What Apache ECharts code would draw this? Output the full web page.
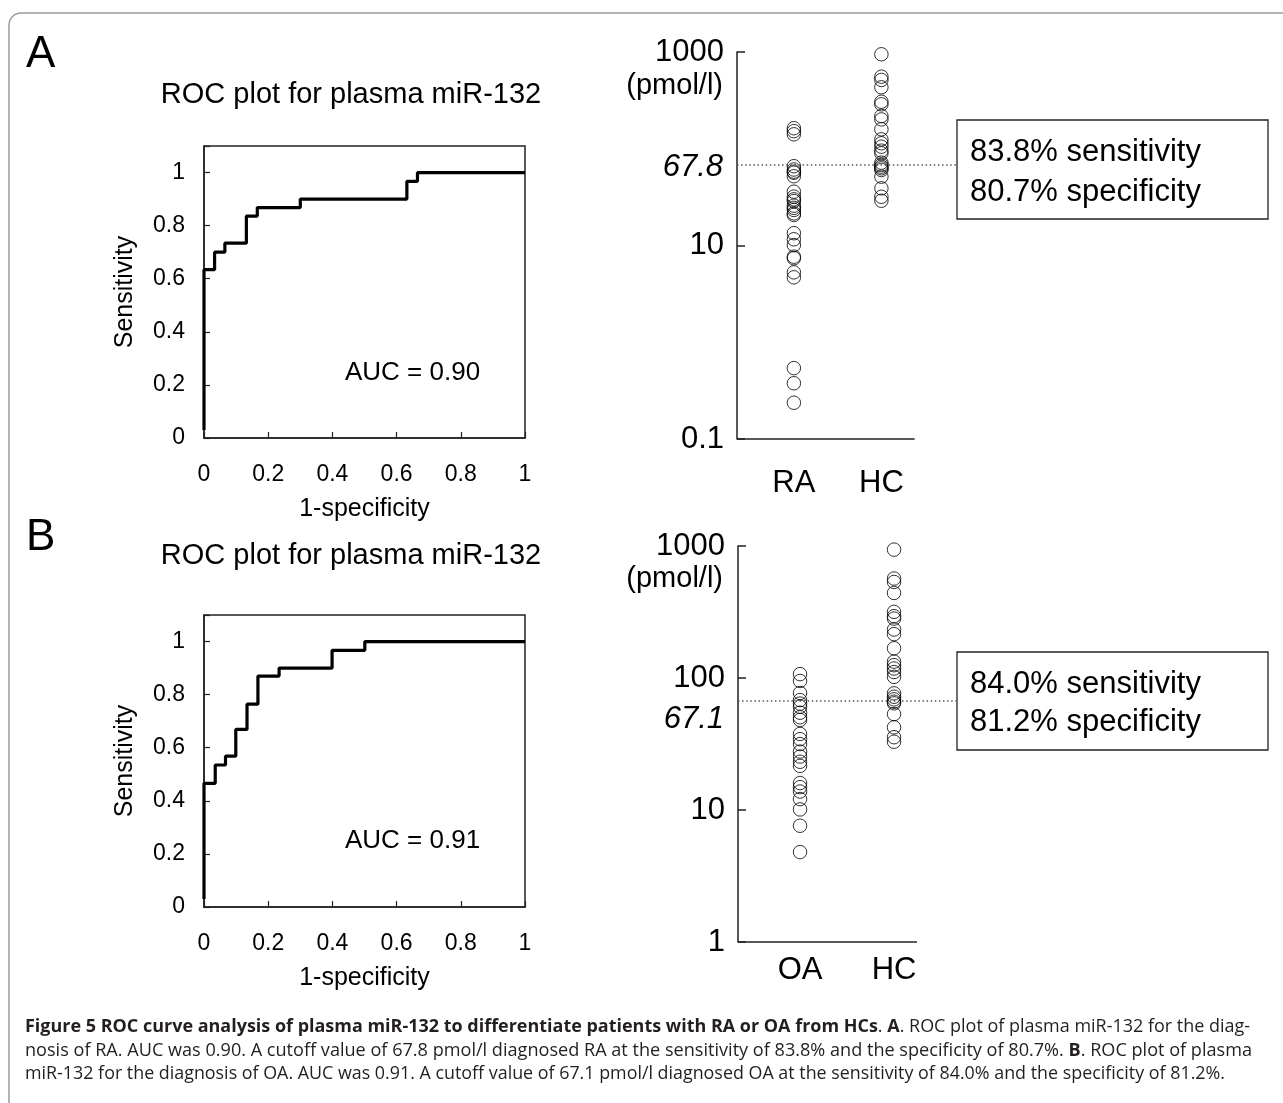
<!DOCTYPE html>
<html>
<head>
<meta charset="utf-8">
<script src="https://cdn.jsdelivr.net/npm/echarts@6/dist/echarts.min.js"></script>
<style>
html,body{margin:0;padding:0;background:#fff;}
#chart{width:1283px;height:1103px;}
</style>
</head>
<body>
<div id="chart"></div>
<script>
// ---------------- DATA ----------------
const rocTickLabels = ['0', '0.2', '0.4', '0.6', '0.8', '1'];
// Panel A ROC (1-specificity, sensitivity) corner points
const rocFprA = [0, 0, 0.033, 0.065, 0.132, 0.166, 0.300, 0.632, 0.665, 1];
const rocTprA = [0.03, 0.634, 0.700, 0.734, 0.836, 0.868, 0.900, 0.967, 1, 1];
// Panel B ROC
const rocFprB = [0, 0, 0.035, 0.067, 0.099, 0.134, 0.168, 0.234, 0.399, 0.501, 1];
const rocTprB = [0.03, 0.466, 0.535, 0.568, 0.669, 0.764, 0.870, 0.900, 0.967, 1, 1];
const aucA = 'AUC = 0.90';
const aucB = 'AUC = 0.91';

const groupsA = ['RA', 'HC'];
const groupsB = ['OA', 'HC'];
const logTicksA = [0.1, 10, 1000];
const logTicksB = [1, 10, 100, 1000];

const valuesRA = [163, 152, 141, 66, 61, 58, 56.5, 52, 36, 32, 30, 28.8, 25.8, 24.5, 23.3, 21.5, 20.7,
  13.4, 11.6, 10.1, 7.66, 7.38, 5.28, 4.69, 0.54, 0.377, 0.237];
const valuesHCA = [947, 556, 514, 432, 306, 288, 218, 201, 159, 125, 114, 105, 95.5, 89.8, 71.8, 68,
  65.2, 62.8, 60.3, 51.4, 39, 31.9, 29];
const valuesOA = [107, 95, 77, 68, 64, 60.6, 54.6, 50.4, 48.1, 37.7, 34.4, 31.6, 27.7, 25.4, 23.2,
  21.6, 16, 14.9, 13.8, 12.1, 10.1, 7.6, 4.8];
const valuesHCB = [939, 567, 534, 441, 317, 294, 282, 233, 215, 168, 133, 125, 118, 111, 102, 76.5,
  72.1, 68.9, 66.1, 64.3, 53.3, 42.3, 35.6, 32.9];

const cutoffA = 67.8;
const cutoffB = 67.1;
const statsA = ['83.8% sensitivity', '80.7% specificity'];
const statsB = ['84.0% sensitivity', '81.2% specificity'];

const captionLines = [
  [{b: true, t: 'Figure 5 ROC curve analysis of plasma miR-132 to differentiate patients with RA or OA from HCs'},
   {b: false, t: '. '}, {b: true, t: 'A'}, {b: false, t: '. ROC plot of plasma miR-132 for the diag-'}],
  [{b: false, t: 'nosis of RA. AUC was 0.90. A cutoff value of 67.8 pmol/l diagnosed RA at the sensitivity of 83.8% and the specificity of 80.7%. '},
   {b: true, t: 'B'}, {b: false, t: '. ROC plot of plasma'}],
  [{b: false, t: 'miR-132 for the diagnosis of OA. AUC was 0.91. A cutoff value of 67.1 pmol/l diagnosed OA at the sensitivity of 84.0% and the specificity of 81.2%.'}]
];

// ---------------- STYLE / LAYOUT ----------------
const FONT = '"Liberation Sans", Arial, sans-serif';
const CAP_FONT = '"Open Sans", sans-serif';
const CAP_SIZE = 18;
const capTargets = [1225, 1227, 1200];
const capY = [1027, 1051, 1074];

function rocPairs(xs, ys) { return xs.map((x, i) => [x, ys[i]]); }
function groupPairs(idx, vals) { return vals.map(v => [idx, v]); }
function fmtLog(v) { return v >= 1 ? String(Math.round(v)) : String(+v.toFixed(2)); }
function inList(list, v) { return list.some(t => Math.abs(Math.log10(t) - Math.log10(v)) < 1e-6); }

function rocAxes(gi) {
  return {
    x: {
      type: 'value', gridIndex: gi, min: 0, max: 1, interval: 0.2,
      name: '1-specificity', nameLocation: 'middle', nameGap: 59,
      nameTextStyle: {fontFamily: FONT, fontSize: 25, color: '#000'},
      axisLine: {show: true, onZero: false, lineStyle: {color: '#222', width: 1.5}},
      axisTick: {show: true, inside: true, length: 6, lineStyle: {color: '#222', width: 1.2}},
      axisLabel: {margin: 25, fontFamily: FONT, fontSize: 23, color: '#000',
        formatter: v => rocTickLabels[Math.round(v / 0.2)] || ''},
      splitLine: {show: false}
    },
    y: {
      type: 'value', gridIndex: gi, min: 0, max: 1.1, interval: 0.2,
      name: 'Sensitivity', nameLocation: 'middle', nameGap: 66, nameRotate: 90,
      nameTextStyle: {fontFamily: FONT, fontSize: 25, color: '#000'},
      axisLine: {show: true, onZero: false, lineStyle: {color: '#222', width: 1.5}},
      axisTick: {show: true, inside: true, length: 6, lineStyle: {color: '#222', width: 1.2}},
      axisLabel: {margin: 19, fontFamily: FONT, fontSize: 23, color: '#000',
        formatter: v => v > 1.0001 ? '' : (rocTickLabels[Math.round(v / 0.2)] || '')},
      splitLine: {show: false}
    }
  };
}

function dotAxes(gi, groups, xmin, xmax, ymin, ymax, ticks, labelMargin) {
  return {
    x: {
      type: 'value', gridIndex: gi, min: xmin, max: xmax,
      axisLine: {show: false, onZero: false}, axisTick: {show: false}, splitLine: {show: false},
      axisLabel: {customValues: groups.map((g, i) => i), margin: labelMargin,
        fontFamily: FONT, fontSize: 31, color: '#000',
        formatter: v => groups[Math.round(v)] || ''}
    },
    y: {
      type: 'log', logBase: 10, gridIndex: gi, min: ymin, max: ymax,
      interval: Math.round(Math.log10(ticks[1] / ticks[0])),
      axisLine: {show: true, onZero: false, lineStyle: {color: '#222', width: 1.5}},
      axisTick: {show: true, inside: true, length: 8, lineStyle: {color: '#222', width: 1.5}},
      minorTick: {show: false},
      splitLine: {show: false},
      axisLabel: {margin: 13, fontFamily: FONT, fontSize: 31, color: '#000',
        formatter: v => inList(ticks, v) ? fmtLog(v) : ''}
    }
  };
}

const roA = rocAxes(0), roB = rocAxes(2);
const dA = dotAxes(1, groupsA, -0.65, 1.864, 0.1, 1000, logTicksA, 29);
const dB = dotAxes(3, groupsB, -0.66, 1.67, 1, 1000, logTicksB, 13);
const axisEndA = 1.38, axisEndB = 1.244;

function rocSeries(xi, yi, xs, ys) {
  return {
    type: 'line', xAxisIndex: xi, yAxisIndex: yi, data: rocPairs(xs, ys),
    step: 'end', symbol: 'none', silent: true, animation: false,
    lineStyle: {color: '#000', width: 3.2}
  };
}

function dotSeries(xi, yi, idx, vals) {
  return {
    type: 'scatter', xAxisIndex: xi, yAxisIndex: yi, data: groupPairs(idx, vals),
    symbol: 'circle', symbolSize: 13.5, silent: true, animation: false,
    itemStyle: {color: 'rgba(0,0,0,0)', borderColor: '#000', borderWidth: 1}
  };
}

function markSeries(xi, yi, xmin, xmax, xAxisEnd, ymin, cutoff, labelShift) {
  return {
    type: 'scatter', xAxisIndex: xi, yAxisIndex: yi, data: [], silent: true, animation: false,
    markLine: {
      silent: true, animation: false, symbol: ['none', 'none'],
      data: [
        [{coord: [xmin, cutoff],
          lineStyle: {color: '#555', width: 1.5, type: [1.5, 2.6]},
          label: {show: true, position: 'start', distance: 14, formatter: '{c|' + cutoff + '}',
            rich: {c: {fontFamily: FONT, fontStyle: 'italic', fontSize: 31, color: '#000',
              padding: [labelShift * 2, 0, 0, 0]}}}},
         {coord: [xmax, cutoff]}],
        [{coord: [xmin, ymin], lineStyle: {color: '#222', width: 1.5, type: 'solid'}, label: {show: false}},
         {coord: [xAxisEnd, ymin]}]
      ]
    }
  };
}

function captionGraphic() {
  const ctx = document.createElement('canvas').getContext('2d');
  return captionLines.map((segs, li) => {
    let w = 0;
    segs.forEach(s => {
      ctx.font = (s.b ? 'bold ' : '') + CAP_SIZE + 'px ' + CAP_FONT;
      w += ctx.measureText(s.t).width;
    });
    const sx = w > 0 ? capTargets[li] / w : 1;
    return {
      type: 'text', x: 25, y: capY[li], scaleX: sx, originX: 0, originY: 0, silent: true,
      style: {
        x: 0, y: 0,
        text: segs.map(s => '{' + (s.b ? 'b' : 'n') + '|' + s.t + '}').join(''),
        verticalAlign: 'middle', textVerticalAlign: 'middle',
        fontFamily: CAP_FONT, fontSize: CAP_SIZE, fill: '#231f20',
        rich: {
          b: {fontFamily: CAP_FONT, fontSize: CAP_SIZE, fontWeight: 'bold', color: '#231f20'},
          n: {fontFamily: CAP_FONT, fontSize: CAP_SIZE, color: '#231f20'}
        }
      }
    };
  });
}

function txt(x, y, text, size, align, extra) {
  return {type: 'text', silent: true, style: Object.assign({
    x: x, y: y, text: text, fontFamily: FONT, fontSize: size, fill: '#000',
    align: align, textAlign: align, verticalAlign: 'middle', textVerticalAlign: 'middle'
  }, extra || {})};
}

function statBox(x, y, w, h, lines, y1, y2) {
  return [
    {type: 'rect', silent: true, shape: {x: x, y: y, width: w, height: h},
     style: {fill: '#fff', stroke: '#222', lineWidth: 1.3}},
    txt(x + 13, y1, lines[0], 31, 'left'),
    txt(x + 13, y2, lines[1], 31, 'left')
  ];
}

const option = {
  backgroundColor: '#fff',
  animation: false,
  grid: [
    {left: 204, top: 146, width: 321, height: 292, show: true, borderColor: '#222', borderWidth: 1.5, backgroundColor: 'transparent'},
    {left: 737, top: 52, width: 220, height: 387, show: false},
    {left: 204, top: 615, width: 321, height: 292, show: true, borderColor: '#222', borderWidth: 1.5, backgroundColor: 'transparent'},
    {left: 738, top: 546, width: 219, height: 396, show: false}
  ],
  xAxis: [roA.x, dA.x, roB.x, dB.x],
  yAxis: [roA.y, dA.y, roB.y, dB.y],
  series: [
    rocSeries(0, 0, rocFprA, rocTprA),
    dotSeries(1, 1, 0, valuesRA),
    dotSeries(1, 1, 1, valuesHCA),
    markSeries(1, 1, -0.65, 1.864, axisEndA, 0.1, cutoffA, 2),
    rocSeries(2, 2, rocFprB, rocTprB),
    dotSeries(3, 3, 0, valuesOA),
    dotSeries(3, 3, 1, valuesHCB),
    markSeries(3, 3, -0.66, 1.67, axisEndB, 1, cutoffB, 19)
  ],
  graphic: [].concat(
    [{type: 'rect', silent: true, shape: {x: 9, y: 13, width: 1320, height: 1130, r: 12},
      style: {fill: 'none', stroke: '#9a9a9a', lineWidth: 1.5}}],
    [txt(26, 55, 'A', 44, 'left'), txt(26, 538, 'B', 44, 'left')],
    [txt(351, 95, 'ROC plot for plasma miR-132', 29, 'center'),
     txt(351, 556, 'ROC plot for plasma miR-132', 29, 'center')],
    [txt(345, 373, aucA, 26, 'left'), txt(345, 841, aucB, 26, 'left')],
    [txt(723, 86, '(pmol/l)', 29, 'right'), txt(723, 579, '(pmol/l)', 29, 'right')],
    statBox(957, 120, 311, 99, statsA, 152, 192),
    statBox(957, 652, 311, 98, statsB, 684, 722),
    captionGraphic()
  )
};

const chart = echarts.init(document.getElementById('chart'), null, {renderer: 'canvas', width: 1283, height: 1103});
chart.setOption(option);
</script>
</body>
</html>
